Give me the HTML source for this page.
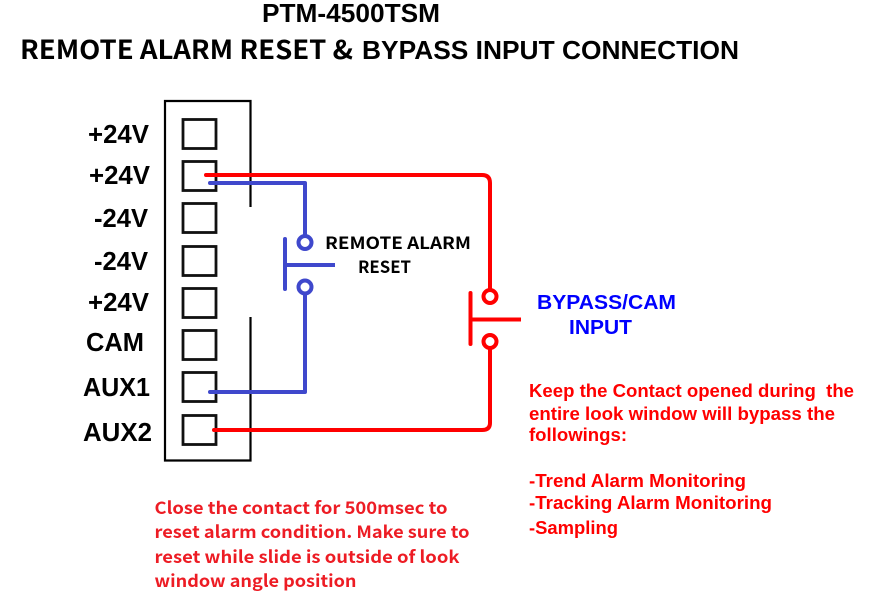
<!DOCTYPE html>
<html><head><meta charset="utf-8"><style>
html,body{margin:0;padding:0;background:#fff;width:886px;height:612px;overflow:hidden}
svg{display:block}
.l{font:bold 26px "Liberation Sans",sans-serif;fill:#000}
.k{font-family:"Noto Sans CJK KR","Liberation Sans",sans-serif;font-weight:700}
.n{font:bold 17px "Noto Sans CJK KR","Liberation Sans",sans-serif;fill:#ed1c24}
.r{font:bold 18px "Liberation Sans",sans-serif;fill:#f00}
.b{font:bold 20px "Liberation Sans",sans-serif;fill:#00f}
</style></head><body>
<svg width="886" height="612" viewBox="0 0 886 612" xmlns="http://www.w3.org/2000/svg">
<rect width="886" height="612" fill="#fff"/>
<text x="262" y="22" textLength="178" lengthAdjust="spacingAndGlyphs" style="font:bold 26px 'Liberation Sans',sans-serif">PTM-4500TSM</text>
<text x="20" y="59" textLength="333" lengthAdjust="spacingAndGlyphs" class="k" style="font-size:26px">REMOTE ALARM RESET &amp;</text>
<text x="362" y="59" textLength="377" lengthAdjust="spacingAndGlyphs" style="font:bold 26px 'Liberation Sans',sans-serif">BYPASS INPUT CONNECTION</text>

<g fill="none" stroke="#000" stroke-width="2.200">
<path d="M250.500 207V101H165V460.500H250.500V317"/>
</g>
<g fill="none" stroke="#111" stroke-width="2.800">
<rect x="183" y="119.500" width="33" height="29"/>
<rect x="183" y="161.500" width="33" height="29"/>
<rect x="183" y="203.500" width="33" height="29"/>
<rect x="183" y="246.500" width="33" height="29"/>
<rect x="183" y="288.500" width="33" height="29"/>
<rect x="183" y="330.500" width="33" height="29"/>
<rect x="183" y="372.500" width="33" height="29"/>
<rect x="183" y="415.500" width="33" height="29"/>
</g>

<text class="l" x="88" y="143" textLength="61" lengthAdjust="spacingAndGlyphs">+24V</text>
<text class="l" x="89" y="184" textLength="61" lengthAdjust="spacingAndGlyphs">+24V</text>
<text class="l" x="94" y="227" textLength="54" lengthAdjust="spacingAndGlyphs">-24V</text>
<text class="l" x="94" y="270" textLength="54" lengthAdjust="spacingAndGlyphs">-24V</text>
<text class="l" x="88" y="311" textLength="61" lengthAdjust="spacingAndGlyphs">+24V</text>
<text class="l" x="86" y="351" textLength="58" lengthAdjust="spacingAndGlyphs">CAM</text>
<text class="l" x="83" y="396" textLength="67" lengthAdjust="spacingAndGlyphs">AUX1</text>
<text class="l" x="83" y="441" textLength="69" lengthAdjust="spacingAndGlyphs">AUX2</text>

<g fill="none" stroke="#3f48cc" stroke-linecap="round">
<path d="M210 183H305V236" stroke-width="4" stroke-linejoin="round"/>
<path d="M305 294V392H210" stroke-width="4" stroke-linejoin="round"/>
<circle cx="305" cy="242.500" r="6.500" stroke-width="4"/>
<circle cx="305" cy="287" r="6.500" stroke-width="4"/>
<path d="M285 239V289" stroke-width="4"/>
<path d="M285 265H335" stroke-width="4" stroke-linecap="butt"/>
</g>
<g fill="none" stroke="#f00" stroke-linecap="round" stroke-linejoin="round">
<path d="M206 175H482Q490 175 490 183V290" stroke-width="4"/>
<path d="M490 348V423Q490 430 482 430H214" stroke-width="4"/>
<circle cx="490" cy="296.500" r="6.500" stroke-width="4"/>
<circle cx="490" cy="341.500" r="6.500" stroke-width="4"/>
<path d="M470.500 293V344" stroke-width="4"/>
<path d="M470.500 319.500H521" stroke-width="4" stroke-linecap="butt"/>
</g>

<text x="325" y="249" textLength="146" lengthAdjust="spacingAndGlyphs" class="k" style="font-size:17px">REMOTE ALARM</text>
<text x="358" y="273" textLength="53" lengthAdjust="spacingAndGlyphs" class="k" style="font-size:17px">RESET</text>

<text class="b" x="537" y="309" textLength="139" lengthAdjust="spacingAndGlyphs">BYPASS/CAM</text>
<text class="b" x="569" y="334" textLength="63" lengthAdjust="spacingAndGlyphs">INPUT</text>

<text class="n" x="154.500" y="514" textLength="293" lengthAdjust="spacingAndGlyphs">Close the contact for 500msec to</text>
<text class="n" x="154.500" y="538" textLength="315" lengthAdjust="spacingAndGlyphs">reset alarm condition. Make sure to</text>
<text class="n" x="154.500" y="563" textLength="305" lengthAdjust="spacingAndGlyphs">reset while slide is outside of look</text>
<text class="n" x="154.500" y="587" textLength="202" lengthAdjust="spacingAndGlyphs">window angle position</text>

<text class="r" x="529" y="397" textLength="325" lengthAdjust="spacingAndGlyphs" style="white-space:pre">Keep the Contact opened during  the</text>
<text class="r" x="529" y="420" textLength="306" lengthAdjust="spacingAndGlyphs">entire look window will bypass the</text>
<text class="r" x="529" y="441" textLength="98" lengthAdjust="spacingAndGlyphs">followings:</text>
<text class="r" x="529" y="487" textLength="217" lengthAdjust="spacingAndGlyphs">-Trend Alarm Monitoring</text>
<text class="r" x="529" y="509" textLength="243" lengthAdjust="spacingAndGlyphs">-Tracking Alarm Monitoring</text>
<text class="r" x="529" y="534" textLength="89" lengthAdjust="spacingAndGlyphs">-Sampling</text>
</svg>
</body></html>
